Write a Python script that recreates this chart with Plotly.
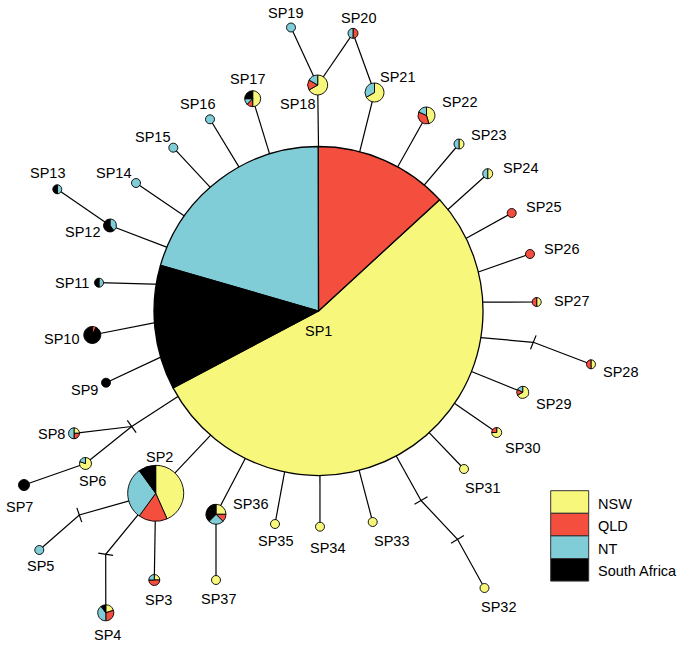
import math
import plotly.graph_objects as go

W, H = 683, 647

# ---------------- data ----------------
REGIONS = ["NSW", "QLD", "NT", "South Africa"]
COLORS = ["#F7F77C", "#F44E3F", "#80CDD7", "#000000"]

HAPLOTYPES = ["SP%d" % i for i in range(1, 38)]
#        SP1   2  3  4  5  6  7  8  9 10 11 12 13 14 15 16 17 18 19 20 21 22 23 24 25 26 27 28 29 30 31 32 33 34 35 36 37
NSW = [54.1, 13, 1, 2, 0, 4, 0, 1, 0, 0, 0, 0, 0, 0, 0, 0, 4, 4, 0, 0, 2, 5, 1, 1, 0, 0, 1, 1, 4, 3, 1, 1, 1, 1, 1, 2, 1]
QLD = [13.2, 5, 2, 3, 0, 0, 0, 1, 0, 1, 0, 0, 0, 0, 0, 0, 1, 1, 0, 1, 0, 4, 0, 0, 1, 1, 1, 1, 1, 1, 0, 0, 0, 0, 0, 1, 0]
NT = [20.5, 9, 1, 4, 1, 1, 0, 2, 0, 0, 1, 2, 1, 1, 1, 1, 1, 1, 1, 1, 1, 2, 1, 1, 0, 0, 0, 0, 1, 0, 0, 0, 0, 0, 0, 2, 0]
SA = [12.2, 3, 0, 1, 0, 0, 1, 0, 1, 13, 1, 3, 1, 0, 0, 0, 2, 0, 0, 0, 0, 0, 0, 0, 0, 0, 0, 0, 0, 0, 0, 0, 0, 0, 0, 3, 0]

# ---------------- network layout (pixel coordinates) ----------------
NODE_X = [318.5, 155.7, 154.3, 105.8, 39.3, 85.5, 24.0, 74.0, 106.0, 92.3, 99.0, 110.0, 57.3,
          136.0, 173.3, 210.0, 252.7, 317.7, 291.0, 353.0, 374.5, 426.5, 459.0, 487.7, 511.7,
          530.0, 536.7, 591.0, 522.7, 496.7, 464.0, 484.5, 372.7, 320.0, 275.0, 216.0, 216.0]
NODE_Y = [311.0, 493.3, 580.0, 612.8, 550.0, 463.5, 485.0, 433.3, 382.7, 335.0, 282.7, 225.5, 189.3,
          183.0, 147.7, 119.3, 98.7, 85.0, 27.5, 33.3, 92.5, 115.5, 144.0, 173.7, 213.0,
          254.0, 302.0, 364.3, 392.3, 432.5, 469.0, 588.0, 522.0, 526.7, 524.0, 514.3, 580.0]
NODE_R = [164.5, 28, 5.5, 8, 4.5, 6, 5.5, 5.5, 4.5, 8.5, 4.5, 6.5, 4.5,
          4.5, 4.5, 4.5, 8, 10, 4.5, 5, 9.5, 8.5, 5, 5, 4.5,
          4.5, 4.5, 4.5, 6, 5, 4.5, 4.5, 4.5, 4.5, 4.5, 10, 4.5]
LABEL_X = [318, 159, 158.5, 107, 40.5, 92, 19, 51.7, 84.5, 61, 72, 82.5, 47,
           113, 152, 197, 247, 297.5, 285.5, 358, 397.5, 459, 488.5, 520, 543.5,
           561.5, 571, 620.5, 553, 522.5, 482, 498, 391, 327, 275, 250.5, 218.5]
LABEL_Y = [331, 456.5, 600, 634.5, 566, 481, 507, 433.6, 390, 338.5, 283, 232, 173,
           172.7, 136.5, 103.5, 78.7, 103.5, 12.5, 17.8, 76.5, 102.4, 134.9, 167.5, 206.6,
           249.2, 300.8, 371.8, 404, 447.6, 487.5, 606.6, 540.7, 548, 541, 504, 598.8]

# angle (deg, clockwise from 12 o'clock) where a branch meets the central haplotype SP1
HUB_ANGLE = {"SP2": 221.0, "J1": 238.7, "SP9": 253.7, "SP10": 265.9, "SP11": 279.4,
             "SP12": 292.8, "SP14": 305.3, "SP15": 318.8, "SP16": 331.1, "SP17": 342.7,
             "SP18": 0.0, "SP21": 14.5, "SP22": 28.8, "SP23": 40.0, "SP24": 51.9,
             "SP25": 63.8, "SP26": 76.3, "SP27": 86.9, "T4": 99.3, "SP29": 111.6,
             "SP30": 124.2, "SP31": 137.7, "T5": 151.8, "SP33": 165.7, "SP34": 179.5,
             "SP35": 191.9, "SP36": 206.4}
JUNCTIONS = {"J1": (131.7, 426.5), "T2": (79.3, 515.0), "T3": (105.7, 554.3),
             "T4": (533.3, 342.3), "T5": (421.0, 500.5), "T6": (457.5, 539.3)}
PATHS = [["SP6", "J1"], ["SP8", "J1"], ["SP7", "SP6"], ["SP13", "SP12"],
         ["SP19", "SP18"], ["SP18", "SP20"], ["SP20", "SP21"],
         ["SP5", "T2", "SP2"], ["SP4", "T3", "SP2"], ["SP3", "SP2"], ["SP37", "SP36"],
         ["SP28", "T4"], ["SP32", "T6", "T5"]]
# mutation ticks: (junction, tick direction in degrees, screen orientation)
TICKS = [("J1", 53.8), ("T2", 71.0), ("T3", 8.5), ("T4", 112.0), ("T5", -30.0), ("T6", -31.0)]

# ---------------- build ----------------
pos = {n: (x, y) for n, x, y in zip(HAPLOTYPES, NODE_X, NODE_Y)}
pos.update(JUNCTIONS)
cx, cy, R = NODE_X[0], NODE_Y[0], NODE_R[0]

lx, ly = [], []
for path in PATHS:
    for p in path:
        lx.append(pos[p][0]); ly.append(pos[p][1])
    lx.append(None); ly.append(None)
for name, ang in HUB_ANGLE.items():
    a = math.radians(ang)
    ax, ay = cx + R * math.sin(a), cy - R * math.cos(a)
    sx, sy = pos[name]
    d = math.hypot(ax - sx, ay - sy)
    ex, ey = ax + (ax - sx) / d * 6, ay + (ay - sy) / d * 6
    lx += [sx, ex, None]; ly += [sy, ey, None]
for name, ang in TICKS:
    x0, y0 = pos[name]
    a = math.radians(ang)
    dx, dy = 7.5 * math.cos(a), 7.5 * math.sin(a)
    lx += [x0 - dx, x0 + dx, None]; ly += [y0 - dy, y0 + dy, None]

fig = go.Figure()
fig.add_trace(go.Scatter(x=lx, y=ly, mode="lines", line=dict(color="black", width=1.2),
                         hoverinfo="skip", showlegend=False))

for i, name in enumerate(HAPLOTYPES):
    vals = [NSW[i], QLD[i], NT[i], SA[i]]
    keep = [k for k in range(4) if vals[k] > 0]
    x, y, r = NODE_X[i], NODE_Y[i], NODE_R[i]
    big = (i == 0)
    fig.add_trace(go.Pie(
        values=[vals[k] for k in keep],
        labels=[REGIONS[k] for k in keep],
        marker=dict(colors=[COLORS[k] for k in keep],
                    line=dict(color="black", width=1.3 if big else 0.9)),
        sort=False,
        direction="counterclockwise" if big else "clockwise",
        rotation=47.4 if big else 0,
        textinfo="none", hoverinfo="label+value", showlegend=False,
        domain=dict(x=[(x - r) / W, (x + r) / W], y=[1 - (y + r) / H, 1 - (y - r) / H]),
    ))

FONT = dict(family="Liberation Sans, Arial, sans-serif", size=14.5, color="black")
annotations = [dict(x=LABEL_X[i], y=LABEL_Y[i], text=n, xref="x", yref="y", showarrow=False,
                    font=FONT) for i, n in enumerate(HAPLOTYPES)]

# legend box
shapes = []
LEG_X0, LEG_X1, LEG_Y0, ROW = 550.7, 588.7, 490.7, 22.6
for k, reg in enumerate(REGIONS):
    y0 = LEG_Y0 + k * ROW
    shapes.append(dict(type="rect", xref="x", yref="y", x0=LEG_X0, x1=LEG_X1, y0=y0, y1=y0 + ROW,
                       fillcolor=COLORS[k], line=dict(color="#333333", width=1)))
    annotations.append(dict(x=596, y=y0 + ROW / 2 + 1.5, text=reg, xref="x", yref="y",
                            xanchor="left", showarrow=False, font=FONT))

fig.update_layout(
    width=W, height=H, margin=dict(l=0, r=0, t=0, b=0),
    paper_bgcolor="white", plot_bgcolor="white",
    xaxis=dict(range=[0, W], visible=False, fixedrange=True),
    yaxis=dict(range=[H, 0], visible=False, fixedrange=True),
    shapes=shapes, annotations=annotations, showlegend=False,
)

fig.write_html("out.html", config={"displayModeBar": False},
               post_script="document.body.style.margin='0px';")
